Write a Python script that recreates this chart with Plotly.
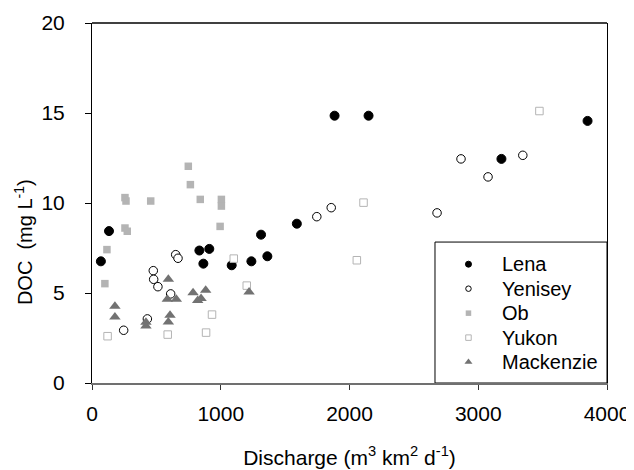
import plotly.graph_objects as go

# ---- data (discharge, DOC) ----
lena_x = [69, 132, 834, 865, 911, 1085, 1238, 1313, 1362, 1591, 1884, 2148, 3180, 3849]
lena_y = [6.76, 8.44, 7.36, 6.63, 7.45, 6.54, 6.76, 8.24, 7.04, 8.85, 14.85, 14.85, 12.45, 14.56]

yenisey_x = [246, 430, 476, 479, 512, 611, 650, 668, 1746, 1858, 2680, 2866, 3076, 3346]
yenisey_y = [2.93, 3.56, 6.24, 5.76, 5.35, 4.95, 7.13, 6.93, 9.24, 9.74, 9.45, 12.45, 11.45, 12.65]

ob_x = [100, 116, 256, 264, 256, 274, 456, 748, 764, 841, 1005, 1005, 995]
ob_y = [5.52, 7.41, 10.3, 10.11, 8.61, 8.43, 10.11, 12.04, 11.02, 10.2, 10.2, 9.83, 8.7]

yukon_x = [121, 588, 886, 932, 1101, 1202, 2109, 2057, 3475]
yukon_y = [2.6, 2.69, 2.8, 3.8, 6.91, 5.41, 10.02, 6.82, 15.11]

mack_x = [178, 178, 419, 419, 593, 585, 655, 606, 593, 785, 821, 847, 883, 1220]
mack_y = [4.26, 3.67, 3.37, 3.17, 5.76, 4.65, 4.65, 3.76, 3.39, 5.02, 4.59, 4.69, 5.15, 5.06]

series_names = ["Lena", "Yenisey", "Ob", "Yukon", "Mackenzie"]
x_ticks = [0, 1000, 2000, 3000, 4000]
y_ticks = [0, 5, 10, 15, 20]

# legend layout (fractions of the plot area)
legend_key_x = 0.731
legend_text_x = 0.792
legend_rows = [0.330, 0.262, 0.194, 0.126, 0.058]

FONT = "Liberation Sans, Arial, sans-serif"
OBG = "#b4b4b4"
MGRAY = "#727272"

styles = [
    dict(symbol="circle", color="black", line=dict(color="black", width=1)),
    dict(symbol="circle", color="white", line=dict(color="black", width=1)),
    dict(symbol="square", color=OBG, line=dict(color=OBG, width=0)),
    dict(symbol="square", color="white", line=dict(color=OBG, width=1)),
    dict(symbol="triangle-up", color=MGRAY, line=dict(color=MGRAY, width=0)),
]
sizes = [9, 8.5, 7.5, 7.5, 10]
key_sizes = [6, 5.5, 5.5, 5.5, 7]
data = [(lena_x, lena_y), (yenisey_x, yenisey_y), (ob_x, ob_y), (yukon_x, yukon_y), (mack_x, mack_y)]

fig = go.Figure()
for (xs, ys), name, st, sz in zip(data, series_names, styles, sizes):
    fig.add_trace(go.Scatter(x=xs, y=ys, mode="markers", name=name, showlegend=False,
                             marker=dict(size=sz, **st), cliponaxis=False))
# legend keys on an auxiliary 0..1 axis pair
for name, st, ks, ry in zip(series_names, styles, key_sizes, legend_rows):
    fig.add_trace(go.Scatter(x=[legend_key_x], y=[ry], xaxis="x2", yaxis="y2",
                             mode="markers", name=name, showlegend=False, hoverinfo="skip",
                             marker=dict(size=ks, **st), cliponaxis=False))

annotations = [
    dict(text="DOC  (mg L<sup>-1</sup>)", xref="paper", yref="paper",
         x=-0.133, y=0.39, textangle=-90, showarrow=False,
         xanchor="center", yanchor="middle", font=dict(size=20)),
]
for name, ry in zip(series_names, legend_rows):
    annotations.append(dict(text=name, xref="paper", yref="paper", x=legend_text_x, y=ry,
                            xanchor="left", yanchor="middle", showarrow=False,
                            font=dict(size=20)))

# the page body has an 8px default margin, so the figure is sized to fit the window
fig.update_layout(
    width=626, height=462,
    margin=dict(l=84, r=27, t=15, b=87, autoexpand=False),
    paper_bgcolor="white", plot_bgcolor="white",
    font=dict(family=FONT, size=21, color="black"),
    showlegend=False,
    xaxis=dict(range=[0, 4000], tickvals=x_ticks, showgrid=False, zeroline=False,
               automargin=False,
               showline=True, linecolor="#707070", linewidth=1.5, mirror=False,
               ticks="outside", ticklen=5, tickcolor="#333", ticklabelstandoff=6,
               title=dict(text="Discharge (m<sup>3</sup> km<sup>2</sup> d<sup>-1</sup>)",
                          font=dict(size=21), standoff=26)),
    yaxis=dict(range=[0, 20], tickvals=y_ticks, showgrid=False, zeroline=False,
               automargin=False,
               showline=True, linecolor="black", linewidth=1, mirror=True,
               ticks="outside", ticklen=6, tickcolor="black", ticklabelstandoff=16),
    xaxis2=dict(range=[0, 1], overlaying="x", anchor="y2", visible=False, automargin=False),
    yaxis2=dict(range=[0, 1], overlaying="y", anchor="x2", visible=False, automargin=False),
    shapes=[
        dict(type="line", xref="paper", yref="paper", x0=0, x1=1, y0=1, y1=1,
             line=dict(color="black", width=1.5)),
        dict(type="rect", xref="x", yref="y", x0=2664, x1=4000, y0=0, y1=7.83,
             line=dict(color="black", width=1), fillcolor="rgba(0,0,0,0)", layer="above"),
    ],
    annotations=annotations,
)

fig.write_html("out.html")
